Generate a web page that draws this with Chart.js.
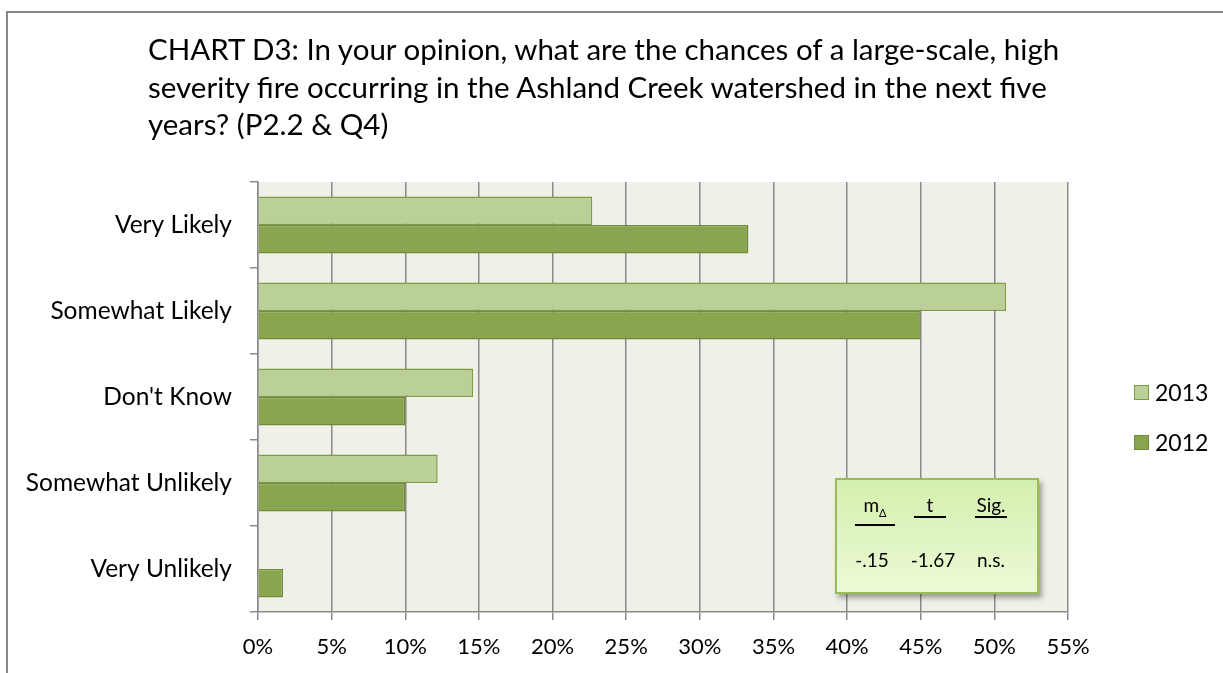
<!DOCTYPE html>
<html>
<head>
<meta charset="utf-8">
<script src="https://cdn.jsdelivr.net/npm/chart.js@4/dist/chart.umd.min.js"></script>
<style>
  body { margin: 0; background: #fff; font-family: Lato, "Open Sans", sans-serif; }
  #wrap { position: relative; width: 1223px; height: 673px; overflow: hidden; }
  #frame { position: absolute; left: 6px; top: 11px; width: 1300px; height: 800px; border: 2px solid #878787; }
  #title { position: absolute; left: 148px; top: 30px; font-size: 29.5px; line-height: 37.5px; color: #000; white-space: nowrap; }
  #legend { position: absolute; left: 1134px; top: 379px; font-size: 23px; color: #000; }
  #legend div { display: flex; align-items: center; height: 26px; margin-bottom: 24px; }
  #legend span.box { display: inline-block; width: 13px; height: 13px; margin-right: 6px; }
  #stats { position: absolute; left: 835px; top: 478px; width: 200px; height: 112px;
           border: 2px solid #9bbb59; background: linear-gradient(#d4efad, #ecfad6);
           box-shadow: 3px 4px 5px rgba(0,0,0,0.35); font-size: 19px; color: #000; }
  #stats .cell { position: absolute; text-align: center; line-height: 23px; }
  #stats .u { border-bottom: 2px solid #000; }
  canvas { position: absolute; left: 0; top: 0; }
</style>
</head>
<body>
<div id="wrap">
  <div id="frame"></div>
  <canvas id="chart" width="1223" height="673"></canvas>
  <div id="title">CHART D3: In your opinion, what are the chances of a large-scale, high<br>severity fire occurring in the Ashland Creek watershed in the next five<br>years? (P2.2 &amp; Q4)</div>
  <div id="legend"></div>
  <div id="stats">
    <div class="cell u" style="left:18px; top:13px; width:40px;">m<sub style="font-size:11px;">&Delta;</sub></div>
    <div class="cell u" style="left:77px; top:13px; width:32px;">t</div>
    <div class="cell u" style="left:138px; top:13px; width:32px;">Sig.</div>
    <div class="cell" style="left:12px; top:68px; width:46px;">-.15</div>
    <div class="cell" style="left:70px; top:68px; width:52px;">-1.67</div>
    <div class="cell" style="left:133px; top:68px; width:42px;">n.s.</div>
  </div>
</div>
<script>
const categories = ["Very Likely", "Somewhat Likely", "Don't Know", "Somewhat Unlikely", "Very Unlikely"];
const values2013 = [22.7, 50.8, 14.6, 12.2, 0];
const values2012 = [33.3, 45, 10, 10, 1.7];
const seriesNames = ["2013", "2012"];
const xMin = 0, xMax = 55, xStep = 5;

const fills = ["#bbcf98", "#89a54e"];
const borders = ["#7f9c45", "#71893f"];
const gridGray = "#8a8a8a";

const plotBg = {
  id: "plotBg",
  beforeDraw(chart) {
    const { ctx, chartArea: a } = chart;
    ctx.save();
    ctx.fillStyle = "#eff1e9";
    ctx.fillRect(a.left, a.top, a.right - a.left, a.bottom - a.top);
    ctx.restore();
  }
};

const chart = new Chart(document.getElementById("chart"), {
  type: "bar",
  plugins: [plotBg],
  data: {
    labels: categories,
    datasets: [
      { label: seriesNames[0], data: values2013, backgroundColor: fills[0], borderColor: borders[0], borderWidth: 1.5 },
      { label: seriesNames[1], data: values2012, backgroundColor: fills[1], borderColor: borders[1], borderWidth: 1.5 }
    ]
  },
  options: {
    indexAxis: "y",
    responsive: false,
    animation: false,
    layout: { padding: { top: 182, right: 155, left: 0, bottom: 0 } },
    datasets: { bar: { categoryPercentage: 0.66, barPercentage: 1 } },
    plugins: {
      legend: { display: false },
      title: { display: false },
      tooltip: { enabled: false }
    },
    scales: {
      x: {
        min: xMin, max: xMax,
        ticks: {
          stepSize: xStep, color: "#000", padding: 14,
          font: { family: "Lato", size: 22 },
          callback: (v) => v + "%"
        },
        grid: { color: gridGray, lineWidth: 1.5, tickLength: 8, drawOnChartArea: true },
        border: { color: gridGray, width: 1.5 },
        afterFit: (s) => { s.height = 61; }
      },
      y: {
        ticks: { color: "#000", padding: 18, font: { family: "Lato", size: 24.5 } },
        grid: { offset: true, drawOnChartArea: false, color: gridGray, lineWidth: 1.5, tickLength: 8 },
        border: { color: gridGray, width: 1.5 },
        afterFit: (s) => { s.width = 258; }
      }
    }
  }
});

const legend = document.getElementById("legend");
chart.data.datasets.forEach((ds) => {
  const row = document.createElement("div");
  row.innerHTML = `<span class="box" style="background:${ds.backgroundColor}; border:1px solid ${ds.borderColor};"></span>${ds.label}`;
  legend.appendChild(row);
});
</script>
</body>
</html>
